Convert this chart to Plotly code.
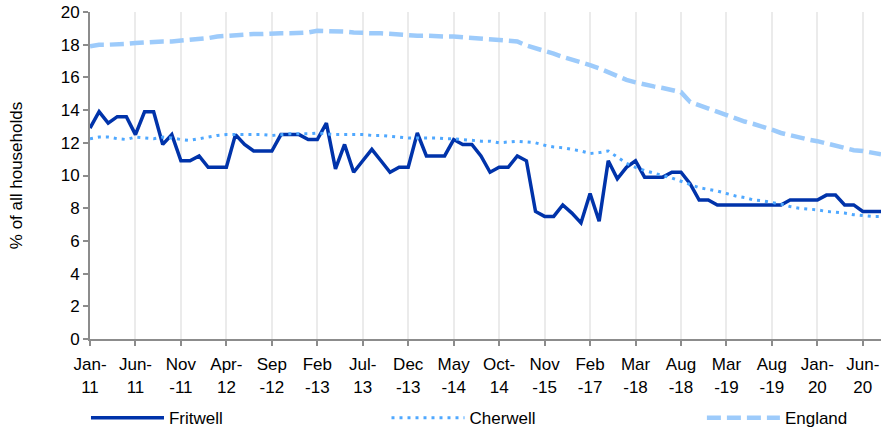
import plotly.graph_objects as go

months = [
    "Jan-11", "Feb-11", "Mar-11", "Apr-11", "May-11", "Jun-11", "Jul-11", "Aug-11", "Sep-11", "Oct-11", "Nov-11", "Dec-11",
    "Jan-12", "Feb-12", "Mar-12", "Apr-12", "May-12", "Jun-12", "Jul-12", "Aug-12", "Sep-12", "Oct-12", "Nov-12", "Dec-12",
    "Jan-13", "Feb-13", "Mar-13", "Apr-13", "May-13", "Jun-13", "Jul-13", "Aug-13", "Sep-13", "Oct-13", "Nov-13", "Dec-13",
    "Jan-14", "Feb-14", "Mar-14", "Apr-14", "May-14", "Jun-14", "Jul-14", "Aug-14", "Sep-14", "Oct-14", "Nov-14",
    "Feb-15", "May-15", "Aug-15", "Nov-15", "Feb-16", "May-16", "Aug-16", "Nov-16", "Feb-17", "May-17", "Aug-17",
    "Nov-17", "Feb-18", "Mar-18", "Apr-18", "May-18", "Jun-18", "Jul-18", "Aug-18", "Nov-18", "Dec-18", "Jan-19",
    "Feb-19", "Mar-19", "Apr-19", "May-19", "Jun-19", "Jul-19", "Aug-19", "Sep-19", "Oct-19", "Nov-19", "Dec-19",
    "Jan-20", "Feb-20", "Mar-20", "Apr-20", "May-20", "Jun-20", "Jul-20", "Aug-20",
]

fritwell = [
    12.9, 13.9, 13.2, 13.6, 13.6, 12.5, 13.9, 13.9, 11.9, 12.5,
    10.9, 10.9, 11.2, 10.5, 10.5, 10.5, 12.5, 11.9, 11.5, 11.5,
    11.5, 12.5, 12.5, 12.5, 12.2, 12.2, 13.2, 10.4, 11.9, 10.2,
    10.9, 11.6, 10.9, 10.2, 10.5, 10.5, 12.6, 11.2, 11.2, 11.2,
    12.2, 11.9, 11.9, 11.2, 10.2, 10.5, 10.5, 11.2, 10.9, 7.8,
    7.5, 7.5, 8.2, 7.7, 7.1, 8.9, 7.2, 10.9, 9.8, 10.5,
    10.9, 9.9, 9.9, 9.9, 10.2, 10.2, 9.5, 8.5, 8.5, 8.2,
    8.2, 8.2, 8.2, 8.2, 8.2, 8.2, 8.2, 8.5, 8.5, 8.5,
    8.5, 8.8, 8.8, 8.2, 8.2, 7.8, 7.8, 7.8,
]

cherwell = [
    12.25, 12.35, 12.35, 12.25, 12.2, 12.35, 12.3, 12.25, 12.35, 12.3,
    12.2, 12.15, 12.25, 12.35, 12.45, 12.5, 12.5, 12.5, 12.5, 12.5,
    12.45, 12.5, 12.55, 12.55, 12.55, 12.6, 12.55, 12.5, 12.5, 12.5,
    12.5, 12.45, 12.45, 12.4, 12.35, 12.3, 12.3, 12.3, 12.3, 12.25,
    12.25, 12.2, 12.15, 12.1, 12.1, 12.0, 12.05, 12.1, 12.05, 12.0,
    11.85, 11.75, 11.7, 11.6, 11.5, 11.35, 11.4, 11.5, 11.15, 10.75,
    10.5, 10.3, 10.15, 10.0, 9.85, 9.65, 9.45, 9.25, 9.15, 9.05,
    8.9, 8.75, 8.65, 8.5, 8.45, 8.35, 8.25, 8.1, 8.0, 7.95,
    7.9, 7.8, 7.75, 7.7, 7.6, 7.55, 7.5, 7.5,
]

england = [
    17.9, 18.0, 18.0, 18.0, 18.05, 18.1, 18.15, 18.15, 18.2, 18.2,
    18.25, 18.3, 18.3, 18.4, 18.5, 18.55, 18.6, 18.6, 18.65, 18.65,
    18.7, 18.7, 18.7, 18.7, 18.75, 18.85, 18.85, 18.8, 18.8, 18.75,
    18.7, 18.7, 18.7, 18.65, 18.6, 18.6, 18.55, 18.55, 18.5, 18.5,
    18.5, 18.45, 18.4, 18.35, 18.3, 18.3, 18.25, 18.2, 17.95, 17.8,
    17.65, 17.45, 17.25, 17.1, 16.9, 16.75, 16.55, 16.3, 16.05, 15.85,
    15.7, 15.55, 15.45, 15.35, 15.2, 15.1, 14.5, 14.3, 14.1, 13.9,
    13.7, 13.45, 13.3, 13.15, 13.0, 12.8, 12.6, 12.45, 12.3, 12.2,
    12.1, 11.95, 11.8, 11.7, 11.55, 11.5, 11.4, 11.3,
]

tick_months = ["Jan-11", "Jun-11", "Nov-11", "Apr-12", "Sep-12", "Feb-13", "Jul-13", "Dec-13", "May-14",
               "Oct-14", "Nov-15", "Feb-17", "Mar-18", "Aug-18", "Mar-19", "Aug-19", "Jan-20", "Jun-20"]
tick_text = ["Jan-<br>11", "Jun-<br>11", "Nov<br>-11", "Apr-<br>12", "Sep<br>-12", "Feb<br>-13", "Jul-<br>13",
             "Dec<br>-13", "May<br>-14", "Oct-<br>14", "Nov<br>-15", "Feb<br>-17", "Mar<br>-18", "Aug<br>-18",
             "Mar<br>-19", "Aug<br>-19", "Jan-<br>20", "Jun-<br>20"]
y_ticks = [0, 2, 4, 6, 8, 10, 12, 14, 16, 18, 20]

FONT = "Liberation Sans, Arial, sans-serif"

fig = go.Figure()
fig.add_trace(go.Scatter(x=months, y=fritwell, name="Fritwell", mode="lines",
                         line=dict(color="#0033AA", width=3.5), legend="legend"))
fig.add_trace(go.Scatter(x=months, y=cherwell, name="Cherwell", mode="lines",
                         line=dict(color="#4FA8FF", width=3, dash="3px,5px"), legend="legend2"))
fig.add_trace(go.Scatter(x=months, y=england, name="England", mode="lines",
                         line=dict(color="#9DCBFB", width=4.5, dash="14px,6px"), legend="legend3"))

leg_common = dict(orientation="h", yanchor="middle", xanchor="left", y=0.032, itemwidth=73,
                  xref="container", yref="container",
                  font=dict(family=FONT, size=17, color="#000000"), bgcolor="rgba(0,0,0,0)")

fig.update_layout(
    width=881, height=432,
    margin=dict(l=90, r=0, t=12, b=93),
    paper_bgcolor="white", plot_bgcolor="white",
    font=dict(family=FONT, size=17, color="#000000"),
    showlegend=True,
    legend=dict(x=0.0976, **leg_common),
    legend2=dict(x=0.4387, **leg_common),
    legend3=dict(x=0.7967, **leg_common),
    xaxis=dict(
        type="category", categoryorder="array", categoryarray=months,
        range=[0, len(months) - 1], automargin=False,
        tickmode="array", tickvals=tick_months, ticktext=tick_text,
        showgrid=True, gridcolor="#EBEBEB", gridwidth=1.5,
        showline=True, linecolor="#8C8C8C", linewidth=2,
        ticks="outside", ticklen=5, tickcolor="#8C8C8C", tickwidth=1.5,
        ticklabelstandoff=4,
        tickangle=0, tickfont=dict(family=FONT, size=17, color="#000000"),
        zeroline=False,
    ),
    yaxis=dict(
        range=[0, 20], tickmode="array", tickvals=y_ticks, automargin=False,
        showgrid=False, showline=True, linecolor="#8C8C8C", linewidth=2,
        ticks="outside", ticklen=5, tickcolor="#8C8C8C", tickwidth=1.5,
        tickfont=dict(family=FONT, size=17, color="#000000"),
        title=dict(text="% of all households", font=dict(family=FONT, size=17, color="#000000"), standoff=34),
        zeroline=False,
    ),
)

fig.write_html("out.html", config={"displayModeBar": False},
               post_script="document.body.style.margin='0px';document.body.style.overflow='hidden';")
